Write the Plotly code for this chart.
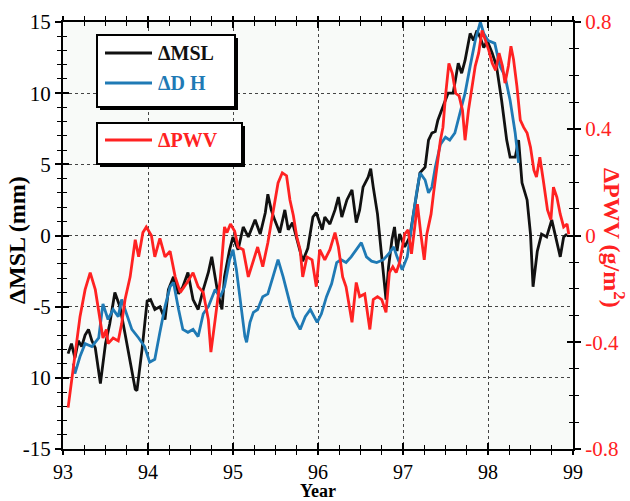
import plotly.graph_objects as go

# Decimal year and sea-level anomaly (mm)
msl_year = [93.06, 93.10, 93.14, 93.18, 93.22, 93.26, 93.30, 93.34, 93.38, 93.44, 93.50, 93.55,
            93.61, 93.67, 93.73, 93.79, 93.85, 93.87, 93.93, 93.99, 94.03, 94.08, 94.14, 94.20,
            94.24, 94.30, 94.36, 94.41, 94.47, 94.53, 94.59, 94.65, 94.71, 94.75, 94.79, 94.82,
            94.87, 94.90, 94.96, 95.00, 95.06, 95.12, 95.18, 95.26, 95.32, 95.38, 95.41, 95.45,
            95.49, 95.55, 95.61, 95.65, 95.70, 95.76, 95.82, 95.88, 95.94, 95.98, 96.05, 96.08,
            96.14, 96.20, 96.24, 96.28, 96.34, 96.40, 96.45, 96.49, 96.53, 96.59, 96.62, 96.65,
            96.70, 96.73, 96.77, 96.80, 96.83, 96.87, 96.90, 96.93, 96.96, 97.02, 97.08, 97.16,
            97.20, 97.26, 97.30, 97.34, 97.38, 97.41, 97.47, 97.53, 97.59, 97.65, 97.69, 97.73,
            97.79, 97.83, 97.87, 97.91, 97.95, 97.99, 98.05, 98.10, 98.16, 98.22, 98.26, 98.32,
            98.36, 98.40, 98.46, 98.50, 98.53, 98.58, 98.63, 98.69, 98.75, 98.79, 98.85, 98.89,
            98.93]
msl_mm = [-8.3, -7.6, -8.6, -7.4, -7.8, -7.0, -6.6, -7.4, -7.9, -10.4, -7.6, -6.2,
          -4.0, -5.0, -6.9, -9.0, -10.8, -10.9, -8.0, -4.6, -4.5, -5.2, -5.0, -5.9,
          -3.8, -2.9, -4.1, -3.6, -2.6, -4.5, -5.2, -3.8, -2.6, -1.5, -2.9, -4.0,
          -5.2, -2.9, -1.0, -0.1, -1.0, 0.6, -0.1, 1.1, 0.1, 1.6, 2.9, 1.8,
          1.1, 0.2, 1.8, 0.4, 0.9, -0.5, -1.8, -0.9, 1.3, 1.6, 0.4, 1.3,
          0.8, 1.8, 2.7, 1.3, 2.5, 3.2, 0.9, 1.8, 3.4, 4.1, 4.7, 3.4,
          1.5, -0.3, -2.6, -4.5, -2.2, -0.3, 0.6, -1.1, 0.1, -0.8, -0.1, 3.0,
          4.4, 4.8, 6.7, 7.2, 7.3, 8.1, 9.1, 10.0, 10.0, 12.1, 11.4, 12.3,
          14.2, 13.7, 14.4, 13.9, 13.2, 13.7, 12.8, 11.9, 9.5, 6.7, 5.5, 5.5,
          6.7, 3.7, 2.5, 0.1, -3.6, -1.1, 0.1, -0.1, 1.1, 0.1, -1.5, -0.1,
          0.1]

# Decimal year and dynamic height anomaly (mm)
dh_year = [93.12, 93.14, 93.20, 93.26, 93.34, 93.42, 93.47, 93.53, 93.59, 93.65, 93.69, 93.75,
           93.81, 93.89, 93.96, 94.02, 94.08, 94.14, 94.20, 94.26, 94.30, 94.36, 94.41, 94.47,
           94.53, 94.59, 94.65, 94.71, 94.79, 94.85, 94.90, 94.96, 95.00, 95.04, 95.10, 95.14,
           95.16, 95.20, 95.24, 95.29, 95.35, 95.41, 95.47, 95.53, 95.59, 95.65, 95.71, 95.79,
           95.85, 95.91, 95.99, 96.04, 96.10, 96.16, 96.22, 96.27, 96.33, 96.39, 96.47, 96.51,
           96.57, 96.63, 96.69, 96.77, 96.83, 96.89, 96.93, 96.99, 97.05, 97.10, 97.16, 97.20,
           97.26, 97.30, 97.34, 97.38, 97.44, 97.50, 97.55, 97.61, 97.67, 97.73, 97.79, 97.85,
           97.91, 97.95, 98.00, 98.08, 98.14, 98.20, 98.26, 98.32, 98.36]
dh_mm = [-9.0, -9.7, -8.5, -7.6, -7.8, -7.2, -4.8, -5.9, -5.2, -5.7, -4.5, -5.5,
         -6.6, -7.2, -7.8, -8.9, -8.7, -6.8, -5.0, -3.6, -3.3, -5.2, -6.6, -6.8,
         -6.6, -7.1, -5.5, -5.0, -3.8, -4.3, -3.6, -1.7, -1.0, -2.4, -5.0, -7.1,
         -7.5, -6.1, -5.4, -5.2, -4.3, -4.1, -2.9, -1.7, -2.9, -4.3, -5.7, -6.6,
         -5.7, -5.2, -6.1, -5.5, -4.3, -3.4, -1.9, -1.7, -1.9, -1.5, -0.8, -0.5,
         -1.5, -1.8, -1.9, -1.7, -1.3, -0.8, -1.5, -2.4, -1.5, 0.6, 3.0, 4.4,
         3.9, 3.0, 3.4, 4.8, 6.4, 6.9, 6.7, 7.2, 8.6, 10.0, 11.9, 13.7,
         15.0, 14.2, 13.7, 13.5, 11.9, 11.2, 9.5, 7.2, 5.1]

# Decimal year and precipitable water vapour anomaly (g/m^2)
pwv_year = [93.06, 93.14, 93.20, 93.26, 93.32, 93.38, 93.44, 93.47, 93.51, 93.53, 93.59, 93.65,
            93.69, 93.73, 93.79, 93.85, 93.89, 93.94, 93.98, 94.04, 94.08, 94.14, 94.20, 94.26,
            94.32, 94.38, 94.46, 94.53, 94.59, 94.65, 94.71, 94.74, 94.79, 94.85, 94.90, 94.93,
            94.97, 95.02, 95.06, 95.12, 95.18, 95.24, 95.29, 95.35, 95.41, 95.47, 95.53, 95.58,
            95.63, 95.67, 95.71, 95.75, 95.79, 95.82, 95.87, 95.93, 95.98, 96.02, 96.08, 96.14,
            96.20, 96.24, 96.29, 96.33, 96.40, 96.45, 96.49, 96.55, 96.61, 96.65, 96.70, 96.75,
            96.80, 96.84, 96.88, 96.92, 96.96, 97.02, 97.06, 97.10, 97.14, 97.17, 97.21, 97.25,
            97.28, 97.33, 97.36, 97.40, 97.44, 97.47, 97.50, 97.54, 97.58, 97.62, 97.66, 97.70,
            97.73, 97.77, 97.81, 97.85, 97.89, 97.93, 97.97, 98.01, 98.05, 98.09, 98.13, 98.17,
            98.20, 98.24, 98.27, 98.30, 98.34, 98.38, 98.42, 98.46, 98.50, 98.54, 98.57, 98.61,
            98.65, 98.70, 98.74, 98.77, 98.81, 98.85, 98.89, 98.93, 98.95]
pwv_gm2 = [-0.645, -0.453, -0.304, -0.203, -0.139, -0.203, -0.331, -0.384, -0.352, -0.405, -0.384, -0.395,
           -0.331, -0.240, -0.155, -0.016, -0.080, 0.011, 0.032, 0.000, -0.080, -0.011, -0.080, -0.059,
           -0.155, -0.213, -0.176, -0.139, -0.192, -0.213, -0.315, -0.437, -0.315, -0.165, 0.032, 0.011,
           0.043, 0.016, -0.043, -0.053, -0.155, -0.091, -0.043, -0.117, -0.027, 0.085, 0.197, 0.235,
           0.224, 0.133, 0.075, -0.005, -0.053, -0.155, -0.080, -0.091, -0.192, -0.053, -0.091, -0.053,
           0.011, -0.043, -0.155, -0.192, -0.325, -0.176, -0.229, -0.219, -0.352, -0.240, -0.229, -0.240,
           -0.288, -0.139, -0.117, -0.139, -0.101, 0.005, 0.021, -0.069, 0.032, 0.117, 0.005, -0.091,
           0.005, 0.080, 0.160, 0.256, 0.357, 0.405, 0.523, 0.645, 0.608, 0.533, 0.523, 0.469,
           0.357, 0.469, 0.560, 0.635, 0.683, 0.768, 0.731, 0.693, 0.645, 0.619, 0.683, 0.635,
           0.571, 0.635, 0.709, 0.661, 0.560, 0.432, 0.405, 0.384, 0.331, 0.245, 0.219, 0.293,
           0.208, 0.096, 0.059, 0.181, 0.144, 0.080, 0.032, 0.043, 0.005]

year_ticks = [93, 94, 95, 96, 97, 98, 99]
year_labels = ["93", "94", "95", "96", "97", "98", "99"]
mm_ticks = [-15, -10, -5, 0, 5, 10, 15]
mm_labels = ["-15", "10", "-5", "0", "5", "10", "15"]
pwv_ticks = [-0.8, -0.4, 0, 0.4, 0.8]
pwv_labels = ["-0.8", "-0.4", "0", "0.4", "0.8"]

BLACK = "#111111"
BLUE = "#1f7ab5"
RED = "#ff2222"
SERIF = "Liberation Serif, Times New Roman, serif"

W, H = 630, 501
ML, MR, MT, MB = 63, 57, 22, 52
PW, PH = W - ML - MR, H - MT - MB


def px(x):
    return (x - ML) / PW


def py(y):
    return (H - MB - y) / PH


fig = go.Figure()
fig.add_trace(go.Scatter(x=msl_year, y=msl_mm, mode="lines", name="ΔMSL",
                         line=dict(color=BLACK, width=2.8), xaxis="x", yaxis="y"))
fig.add_trace(go.Scatter(x=dh_year, y=dh_mm, mode="lines", name="ΔDH",
                         line=dict(color=BLUE, width=2.8), xaxis="x", yaxis="y"))
fig.add_trace(go.Scatter(x=pwv_year, y=pwv_gm2, mode="lines", name="ΔPWV",
                         line=dict(color=RED, width=2.8), xaxis="x", yaxis="y2"))
# Transparent copies of one point each, so the inward-tick companion axes get drawn
fig.add_trace(go.Scatter(x=msl_year[:1], y=msl_mm[:1], mode="markers",
                         marker=dict(opacity=0), xaxis="x2", yaxis="y3", hoverinfo="skip"))
fig.add_trace(go.Scatter(x=pwv_year[:1], y=pwv_gm2[:1], mode="markers",
                         marker=dict(opacity=0), xaxis="x2", yaxis="y4", hoverinfo="skip"))

tickfont = dict(family=SERIF, size=21, color="black")
grid = dict(showgrid=True, gridcolor="#444444", griddash="dot", gridwidth=1.3)
inner_major = dict(ticks="inside", ticklen=6, tickwidth=1.5, tickcolor="black")

fig.update_layout(
    width=W, height=H,
    margin=dict(l=ML, r=MR, t=MT, b=MB, autoexpand=False),
    paper_bgcolor="white",
    plot_bgcolor="#f8faf8",
    showlegend=False,
    xaxis=dict(range=[93, 99], tickmode="array", tickvals=year_ticks, ticktext=year_labels,
               ticks="outside", ticklen=4, tickwidth=1.5, tickcolor="black",
               minor=dict(dtick=0.25, tick0=93, ticks="outside", ticklen=4, tickwidth=1.3,
                          tickcolor="black", showgrid=False),
               showline=True, linewidth=2, linecolor="black", mirror="ticks",
               tickfont=dict(family=SERIF, size=20, color="black"),
               zeroline=False, automargin=False,
               **grid),
    xaxis2=dict(range=[93, 99], overlaying="x", anchor="y3", side="bottom",
                tickmode="array", tickvals=year_ticks, showticklabels=False, **inner_major,
                minor=dict(dtick=0.25, tick0=93, ticks="inside", ticklen=4, tickwidth=1.3,
                           tickcolor="black", showgrid=False),
                mirror="ticks", showline=False, showgrid=False, zeroline=False,
                automargin=False),
    yaxis=dict(range=[-15, 15], tickmode="array", tickvals=mm_ticks, ticktext=mm_labels,
               ticks="outside", ticklen=6, tickwidth=1.5, tickcolor="black",
               minor=dict(tickmode="linear", dtick=1, tick0=0, ticks="outside", ticklen=4,
                          tickwidth=1.3, tickcolor="black", showgrid=False),
               showline=True, linewidth=2, linecolor="black", automargin=False,
               tickfont=tickfont, zeroline=False, **grid),
    yaxis3=dict(range=[-15, 15], overlaying="y", anchor="x2", side="left",
                tickmode="array", tickvals=mm_ticks, showticklabels=False, **inner_major,
                minor=dict(tickmode="linear", dtick=1, tick0=0, ticks="inside", ticklen=4,
                           tickwidth=1.3, tickcolor="black", showgrid=False),
                showline=False, showgrid=False, zeroline=False, automargin=False),
    yaxis2=dict(range=[-0.8, 0.8], overlaying="y", anchor="x", side="right",
                tickmode="array", tickvals=pwv_ticks, ticktext=pwv_labels,
                ticks="outside", ticklen=6, tickwidth=1.5, tickcolor="black",
                minor=dict(tickmode="linear", dtick=0.1, tick0=0, ticks="outside", ticklen=4,
                           tickwidth=1.3, tickcolor="black", showgrid=False),
                showline=True, linewidth=2, linecolor="black", automargin=False,
                tickfont=dict(family=SERIF, size=21, color=RED),
                showgrid=False, zeroline=False),
    yaxis4=dict(range=[-0.8, 0.8], overlaying="y", anchor="x2", side="right",
                tickmode="array", tickvals=pwv_ticks, showticklabels=False, **inner_major,
                minor=dict(tickmode="linear", dtick=0.1, tick0=0, ticks="inside", ticklen=4,
                           tickwidth=1.3, tickcolor="black", showgrid=False),
                showline=False, showgrid=False, zeroline=False, automargin=False),
)

# Axis titles drawn as annotations so the right one can read top-to-bottom
fig.add_annotation(text="<b>Year</b>", xref="paper", yref="paper",
                   x=px(318), y=py(491), showarrow=False,
                   xanchor="center", yanchor="middle",
                   font=dict(family=SERIF, size=18, color="black"))
fig.add_annotation(text="<b>ΔMSL (mm)</b>", xref="paper", yref="paper",
                   x=px(17), y=py(240), textangle=-90, showarrow=False,
                   xanchor="center", yanchor="middle",
                   font=dict(family=SERIF, size=24, color="black"))
fig.add_annotation(text="<b>ΔPWV (g/m<sup>2</sup>)</b>", xref="paper", yref="paper",
                   x=px(614), y=py(238), textangle=90, showarrow=False,
                   xanchor="center", yanchor="middle",
                   font=dict(family=SERIF, size=24, color=RED))

# Legend boxes with drop shadows
boxes = [(97, 35, 235, 107), (97, 123, 242, 164)]
for x0, y0, x1, y1 in boxes:
    fig.add_shape(type="rect", xref="paper", yref="paper",
                  x0=px(x0 + 3), x1=px(x1 + 3), y0=py(y0 + 3), y1=py(y1 + 3),
                  fillcolor="black", line=dict(width=0), layer="above")
    fig.add_shape(type="rect", xref="paper", yref="paper",
                  x0=px(x0), x1=px(x1), y0=py(y0), y1=py(y1),
                  fillcolor="white", line=dict(color="black", width=2), layer="above")

entries = [("ΔMSL", BLACK, 53), ("ΔD H", BLUE, 83), ("ΔPWV", RED, 140)]
for label, color, yc in entries:
    fig.add_shape(type="line", xref="paper", yref="paper",
                  x0=px(105), x1=px(152), y0=py(yc), y1=py(yc),
                  line=dict(color=color, width=2.8), layer="above")
    fig.add_annotation(text=f"<b>{label}</b>", xref="paper", yref="paper",
                       x=px(156), y=py(yc), xanchor="left", yanchor="middle",
                       showarrow=False, font=dict(family=SERIF, size=20, color=color))

fig.write_html("out.html")
